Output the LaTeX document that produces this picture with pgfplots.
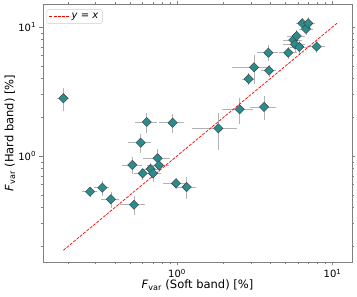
\documentclass[border=0pt]{standalone}
\usepackage{fontspec}
\setmainfont{DejaVu Sans}
\usepackage{pgfplots}
\pgfplotsset{compat=1.18}
\usepackage{pgfplotstable}
\definecolor{mk}{RGB}{42,140,140}
\definecolor{spine}{RGB}{128,128,128}

\pgfplotstableread{
x y ex ey
0.186 2.80 0.016 0.57
0.276 0.529 0.030 0.050
0.331 0.568 0.037 0.077
0.376 0.462 0.050 0.068
0.529 0.419 0.096 0.067
0.516 0.852 0.076 0.13
0.584 1.268 0.097 0.21
0.602 0.734 0.070 0.08
0.639 1.835 0.100 0.32
0.677 0.793 0.090 0.09
0.701 0.734 0.090 0.10
0.751 0.960 0.150 0.17
0.766 0.847 0.120 0.10
0.938 1.81 0.170 0.30
0.985 0.614 0.170 0.063
1.154 0.575 0.170 0.11
1.844 1.64 0.600 0.53
2.53 2.30 0.570 0.53
2.89 3.95 0.280 0.42
3.13 4.87 0.880 1.24
3.63 2.40 0.700 0.50
3.91 4.59 0.450 0.50
3.87 6.32 0.600 0.90
5.20 6.32 0.700 0.70
5.60 7.93 0.800 0.90
5.74 7.34 0.900 1.00
5.89 8.52 0.800 1.00
6.12 7.00 0.800 0.90
6.40 10.68 0.600 1.00
6.76 9.65 0.700 1.00
6.99 10.68 0.700 1.20
7.91 7.04 1.060 0.80
}\data

\begin{document}
\begin{tikzpicture}
\begin{axis}[name=ax,
  xmode=log, ymode=log,
  scale only axis, width=309pt, height=258pt,
  xmin=0.1375, xmax=13.35, ymin=0.1508, ymax=15.07,
  axis line style={spine, line width=0.8pt},
  tick style={spine, line width=0.6pt},
  tick align=outside,
  major tick length=3.5pt, minor tick length=2pt,
  xtick={1,10}, xticklabels={10\textsuperscript{0},10\textsuperscript{1}},
  ytick={1,10}, yticklabels={10\textsuperscript{0},10\textsuperscript{1}},
  minor xtick={0.2,0.3,0.4,0.5,0.6,0.7,0.8,0.9,2,3,4,5,6,7,8,9},
  minor ytick={0.2,0.3,0.4,0.5,0.6,0.7,0.8,0.9,2,3,4,5,6,7,8,9},
  ticklabel style={font=\fontsize{10}{12}\selectfont, text=black},
  xlabel={{\itshape F}\textsubscript{var} (Soft band) [\%]},
  ylabel={{\itshape F}\textsubscript{var} (Hard band) [\%]},
  xlabel style={at={(axis description cs:0.5,-0.0891)}, anchor=center, font=\fontsize{11.5}{14}\selectfont},
  ylabel style={at={(axis description cs:-0.1068,0.5)}, anchor=center, font=\fontsize{11.5}{14}\selectfont},
  legend style={at={(axis description cs:0.012,0.979)}, anchor=north west,
    draw=black!20, rounded corners=2pt, fill=white,
    font=\fontsize{10}{12}\selectfont, inner xsep=2pt, inner ysep=1.5pt},
  legend image code/.code={\draw[#1] (0pt,0pt) -- (20pt,0pt);},
]
\addplot[only marks, mark=none, forget plot,
  error bars/.cd, x dir=both, x explicit, y dir=both, y explicit,
  error mark=none, error bar style={color=black!30, line width=0.8pt}]
  table[x=x, y=y, x error=ex, y error=ey]{\data};
\addplot[only marks, mark=square*, mark size=3.3pt, forget plot,
  mark options={rotate=45, fill=mk, draw=black!75, line width=0.4pt}]
  table[x=x, y=y]{\data};
\addplot[red, line width=0.7pt, dash pattern=on 3pt off 1.3pt] coordinates {(0.186,0.186) (10.68,10.68)};
\addlegendentry{\textit{y} = \textit{x}}
\end{axis}
\pgfresetboundingbox
\path[use as bounding box] ([shift={(-43pt,-35pt)}]ax.south west) rectangle ([shift={(5pt,4pt)}]ax.north east);
\end{tikzpicture}
\end{document}
